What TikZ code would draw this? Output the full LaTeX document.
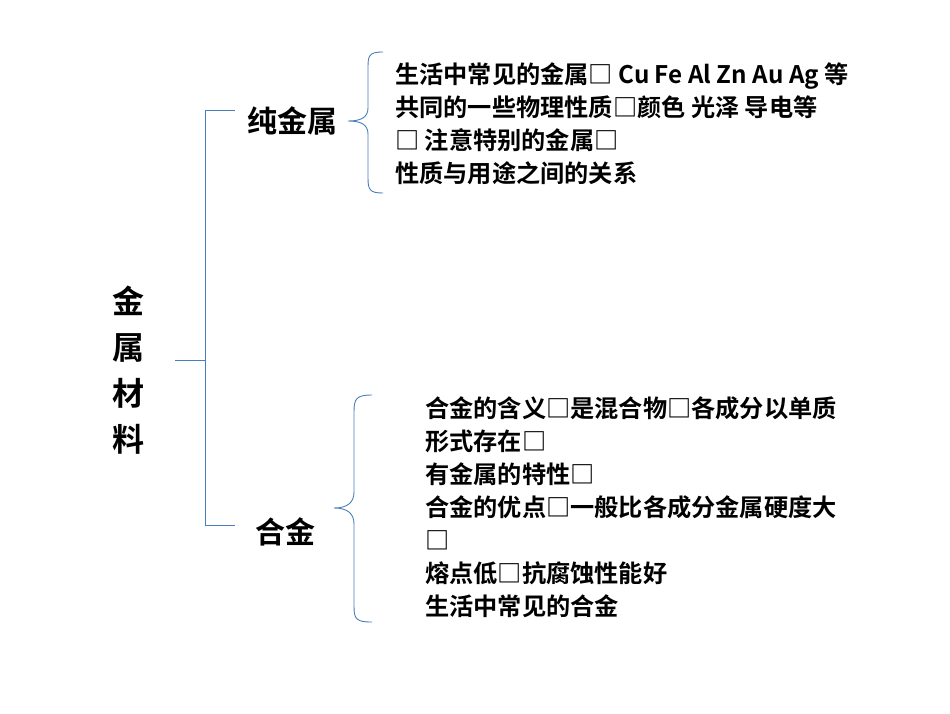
\documentclass[tikz,border=0pt]{standalone}
\usepackage{fontspec}
\setmainfont{Noto Sans CJK SC}[BoldFont={* Bold}]
\definecolor{ln}{HTML}{4A7EBB}
\begin{document}
\begin{tikzpicture}[x=1pt,y=-1pt,
  br/.style={draw=ln,line width=0.9pt},
  txt/.style={anchor=north west,align=left,font=\bfseries\fontsize{24.2}{33}\selectfont,inner sep=0pt},
  big/.style={font=\bfseries\fontsize{30}{30}\selectfont,inner sep=0pt}]
\useasboundingbox (0,0) rectangle (950,713);
\node[big,align=center,font=\bfseries\fontsize{32}{46}\selectfont] (root) at (128,370) {金\\属\\材\\料};
\node[big] (pure) at (292,121) {纯金属};
\node[big] (alloy) at (285,532) {合金};
\coordinate (r) at (175,360);
\draw[br] (r) -- (205,360);
\draw[br] (235,110) -- (205,110) -- (205,525) -- (235,525);
% brace 1
\draw[br] (383,52) .. controls (368,52) and (368,56) .. (368,70) -- (368,108)
  .. controls (368,118) and (360,121) .. (348,121)
  .. controls (360,121) and (368,124) .. (368,134) -- (368,178)
  .. controls (368,190) and (370,193) .. (383,193);
% brace 2
\draw[br] (372,395) .. controls (356,395) and (354,399) .. (354,412) -- (354,492)
  .. controls (354,502) and (348,508) .. (334,508)
  .. controls (348,508) and (354,514) .. (354,524) -- (354,606)
  .. controls (354,619) and (356,622) .. (372,622);
\node[txt] (t1) at (395,62) {生活中常见的金属□ Cu Fe Al Zn Au Ag 等\\共同的一些物理性质□颜色 光泽 导电等\\□ 注意特别的金属□\\性质与用途之间的关系};
\node[txt] (t2) at (425,396) {合金的含义□是混合物□各成分以单质\\形式存在□\\有金属的特性□\\合金的优点□一般比各成分金属硬度大\\□\\熔点低□抗腐蚀性能好\\生活中常见的合金};
\end{tikzpicture}
\end{document}
